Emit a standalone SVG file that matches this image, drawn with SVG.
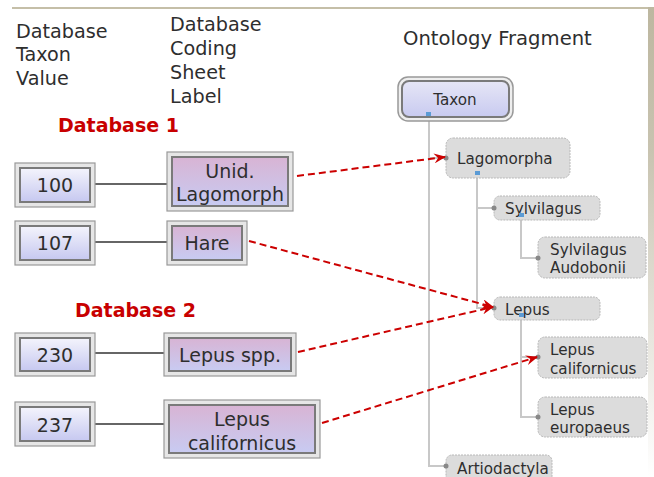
<svg xmlns="http://www.w3.org/2000/svg" width="654" height="477" viewBox="0 0 654 477">
<defs>
<linearGradient id="gBlue" x1="0" y1="0" x2="0" y2="1"><stop offset="0" stop-color="#f4f4fc"/><stop offset="1" stop-color="#c6c8f0"/></linearGradient>
<linearGradient id="gPink" x1="0" y1="0" x2="0" y2="1"><stop offset="0" stop-color="#d8b4d4"/><stop offset="1" stop-color="#c8cbf2"/></linearGradient>
<linearGradient id="gTaxon" x1="0" y1="0" x2="0" y2="1"><stop offset="0" stop-color="#e6e6f6"/><stop offset="1" stop-color="#c8caf0"/></linearGradient>
<linearGradient id="gEdge" x1="0" y1="0" x2="0" y2="1"><stop offset="0" stop-color="#bdb7a0"/><stop offset="0.3" stop-color="#c8c3b0"/><stop offset="1" stop-color="#ffffff"/></linearGradient>
<marker id="arr" viewBox="0 0 12 10" refX="11" refY="5" markerWidth="12" markerHeight="10" markerUnits="userSpaceOnUse" orient="auto">
<path d="M0,0 L12,5 L0,10 L4,5 Z" fill="#cc0000"/>
</marker>
</defs>
<style>
text{font-family:"DejaVu Sans","Verdana",sans-serif;fill:#2e2e2e}
.hdr{font-size:19.2px}
.of{font-size:19.6px}
.db{font-size:19px;font-weight:bold;fill:#c80000}
.bt{font-size:19px;text-anchor:middle}
.ot{font-size:15.2px}
.outer{fill:#e6e6e6;stroke:#999;stroke-width:1.2}
.inner{stroke:#7a7a7a;stroke-width:2}
.blue{fill:url(#gBlue)}
.pink{fill:url(#gPink)}
.gnode{fill:#dcdcdc;stroke:#b8b8b8;stroke-width:1;stroke-dasharray:2,1}
.tree{fill:none;stroke:#c8c8c8;stroke-width:2}
.nub{fill:#888}
.bsq{fill:#5b9bd5}
.link{stroke:#333;stroke-width:1.5}
.red{fill:none;stroke:#cc0000;stroke-width:2;stroke-dasharray:7,4;marker-end:url(#arr)}
</style>
<rect x="12" y="7" width="642" height="2" fill="#c5bfa8"/>
<rect x="648" y="7" width="6" height="470" fill="url(#gEdge)"/>

<g id="headers">
<text class="hdr" x="16" y="38">Database</text>
<text class="hdr" x="16" y="61">Taxon</text>
<text class="hdr" x="16" y="85">Value</text>
<text class="hdr" x="170" y="31">Database</text>
<text class="hdr" x="170" y="55">Coding</text>
<text class="hdr" x="170" y="79">Sheet</text>
<text class="hdr" x="170" y="103">Label</text>
<text class="of" x="403" y="45">Ontology Fragment</text>
<text class="db" x="58" y="132">Database 1</text>
<text class="db" x="75" y="317">Database 2</text>
</g>

<g id="links">
<line class="link" x1="95" y1="184" x2="169" y2="184"/>
<line class="link" x1="95" y1="242" x2="169" y2="242"/>
<line class="link" x1="95" y1="353" x2="166" y2="353"/>
<line class="link" x1="95" y1="424" x2="166" y2="424"/>
</g>

<g id="v100"><rect class="outer" x="15" y="163" width="80" height="44"/><rect class="inner blue" x="20" y="168" width="70" height="34"/><text class="bt" x="55" y="192">100</text></g>
<g id="v107"><rect class="outer" x="15" y="221" width="80" height="44"/><rect class="inner blue" x="20" y="226" width="70" height="34"/><text class="bt" x="55" y="250">107</text></g>
<g id="v230"><rect class="outer" x="15" y="333" width="80" height="43"/><rect class="inner blue" x="20" y="338" width="70" height="33"/><text class="bt" x="55" y="362">230</text></g>
<g id="v237"><rect class="outer" x="15" y="402" width="80" height="44"/><rect class="inner blue" x="20" y="407" width="70" height="34"/><text class="bt" x="55" y="432">237</text></g>

<g id="lUnid"><rect class="outer" x="167" y="152" width="126" height="59"/><rect class="inner pink" x="172" y="157" width="116" height="49"/><text class="bt" x="230" y="178">Unid.</text><text class="bt" x="230" y="201">Lagomorph</text></g>
<g id="lHare"><rect class="outer" x="167" y="221" width="80" height="44"/><rect class="inner pink" x="172" y="226" width="70" height="34"/><text class="bt" x="207" y="250">Hare</text></g>
<g id="lLepusSpp"><rect class="outer" x="164" y="333" width="132" height="43"/><rect class="inner pink" x="169" y="338" width="122" height="33"/><text class="bt" x="230" y="362">Lepus spp.</text></g>
<g id="lLepusCal"><rect class="outer" x="164" y="400" width="156" height="58"/><rect class="inner pink" x="169" y="405" width="146" height="48"/><text class="bt" x="242" y="426">Lepus</text><text class="bt" x="242" y="450">californicus</text></g>

<g id="tree">
<path class="tree" d="M429,121 V466 H446 M429,158 H446 M477,172 V308 H494 M477,208 H494 M521,214 V258 H537 M521,314 V417 H537 M521,357 H537"/>
</g>

<g id="oTaxon"><rect x="398" y="77" width="115" height="44" rx="10" fill="#eee" stroke="#999" stroke-width="1.5"/><rect x="402" y="81" width="107" height="36" rx="7" fill="url(#gTaxon)" stroke="#7a7a7a" stroke-width="2"/><text class="ot" x="455" y="105" text-anchor="middle">Taxon</text><rect class="bsq" x="426" y="112" width="5" height="4"/></g>
<g id="oLagomorpha"><rect class="gnode" x="446" y="138" width="124" height="40" rx="7"/><text class="ot" x="457" y="164">Lagomorpha</text><circle class="nub" cx="446" cy="158" r="2.5"/><rect class="bsq" x="475" y="171" width="5" height="4"/></g>
<g id="oSylvilagus"><rect class="gnode" x="494" y="196" width="106" height="24" rx="6"/><text class="ot" x="505" y="214">Sylvilagus</text><circle class="nub" cx="494" cy="208" r="2.5"/><rect class="bsq" x="519" y="213" width="5" height="4"/></g>
<g id="oSylvAud"><rect class="gnode" x="538" y="237" width="108" height="41" rx="7"/><text class="ot" x="550" y="255">Sylvilagus</text><text class="ot" x="550" y="273">Audobonii</text><circle class="nub" cx="538" cy="258" r="2.5"/></g>
<g id="oLepus"><rect class="gnode" x="494" y="297" width="106" height="23" rx="6"/><text class="ot" x="505" y="315">Lepus</text><circle class="nub" cx="494" cy="308" r="2.5"/><rect class="bsq" x="519" y="313" width="5" height="4"/></g>
<g id="oLepusCal"><rect class="gnode" x="538" y="337" width="109" height="41" rx="7"/><text class="ot" x="550" y="355">Lepus</text><text class="ot" x="550" y="374">californicus</text><circle class="nub" cx="538" cy="357" r="2.5"/></g>
<g id="oLepusEur"><rect class="gnode" x="538" y="397" width="109" height="40" rx="7"/><text class="ot" x="550" y="415">Lepus</text><text class="ot" x="550" y="433">europaeus</text><circle class="nub" cx="538" cy="417" r="2.5"/></g>
<g id="oArtiodactyla"><rect class="gnode" x="446" y="455" width="106" height="30" rx="6"/><text class="ot" x="457" y="474">Artiodactyla</text><circle class="nub" cx="446" cy="466" r="2.5"/></g>

<g id="connectors">
<line class="red" x1="297" y1="176" x2="445" y2="157"/>
<line class="red" x1="249" y1="241" x2="493" y2="307"/>
<line class="red" x1="298" y1="352" x2="493" y2="307"/>
<line class="red" x1="322" y1="423" x2="537" y2="357"/>
</g>
</svg>
